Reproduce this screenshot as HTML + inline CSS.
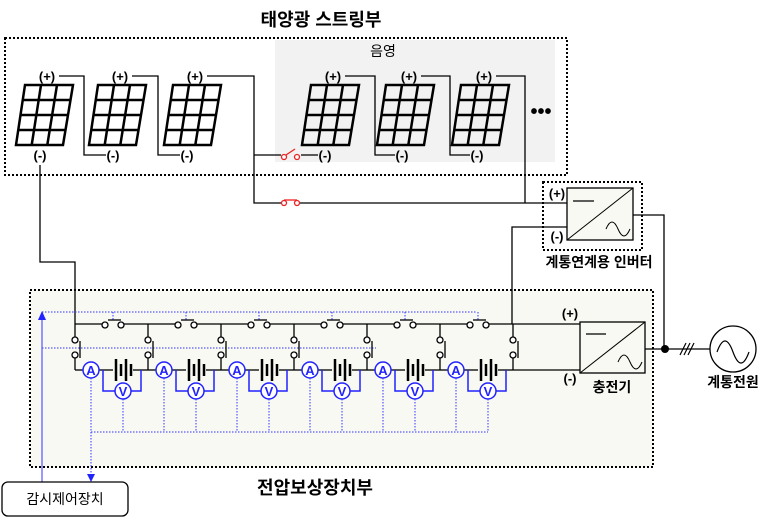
<!DOCTYPE html>
<html><head><meta charset="utf-8"><style>
html,body{margin:0;padding:0;background:#fff;}
svg{display:block;font-family:"Liberation Sans","Noto Sans CJK KR",sans-serif;}
.b{font-weight:bold;}
</style></head><body>
<svg width="774" height="518" viewBox="0 0 774 518" xmlns="http://www.w3.org/2000/svg">
<defs>
<g id="pv" fill="none" stroke="#000" stroke-width="2.5">
<polygon points="9,0 57,0 47,60 0,60"/>
<line x1="25" y1="0" x2="15.7" y2="60"/><line x1="41" y1="0" x2="31.3" y2="60"/>
<line x1="6.75" y1="15" x2="54.5" y2="15"/><line x1="4.5" y1="30" x2="52" y2="30"/><line x1="2.25" y1="45" x2="49.5" y2="45"/>
</g>
<g id="seg">
<g stroke="#000" stroke-width="1.3" fill="none">
<line x1="0" y1="324" x2="0" y2="337"/><circle cx="0" cy="340" r="3" fill="#fff"/><circle cx="0" cy="355" r="3" fill="#fff"/>
<line x1="0" y1="358" x2="0" y2="370"/><line x1="5" y1="341" x2="5" y2="358"/>
<line x1="0" y1="324" x2="27" y2="324"/><circle cx="30" cy="325" r="3" fill="#fff"/><circle cx="46" cy="325" r="3" fill="#fff"/>
<line x1="49" y1="324" x2="73" y2="324"/><line x1="33" y1="320" x2="46" y2="320"/>
<line x1="0" y1="370" x2="8" y2="370"/><line x1="24" y1="370" x2="38" y2="370"/><line x1="58" y1="370" x2="73" y2="370"/>
</g>
<g stroke="#000" stroke-width="2.5">
<line x1="41" y1="359" x2="41" y2="381"/><line x1="46" y1="364" x2="46" y2="376"/><line x1="51" y1="359" x2="51" y2="381"/><line x1="56" y1="364" x2="56" y2="376"/>
</g>
<line x1="38" y1="312" x2="38" y2="320" stroke="#33f" stroke-dasharray="1.5,1.5"/>
<g stroke="#22f" stroke-width="1.5" fill="none">
<polyline points="28,370 28,391 40,391"/><polyline points="56,391 66,391 66,370"/>
<circle cx="16" cy="370" r="8" fill="#fff"/><circle cx="48" cy="391" r="8" fill="#fff"/>
</g>
<g stroke="#33f" stroke-dasharray="1.5,1.5"><line x1="16" y1="378" x2="16" y2="432"/><line x1="48" y1="399" x2="48" y2="432"/></g>
<text x="16" y="375" font-size="13" fill="#22f" text-anchor="middle" class="b">A</text>
<text x="48" y="396" font-size="13" fill="#22f" text-anchor="middle" class="b">V</text>
</g>
</defs>

<text x="321" y="26" font-size="18" class="b" text-anchor="middle">태양광 스트링부</text>
<rect x="5" y="38" width="562" height="137" fill="none" stroke="#000" stroke-width="2" stroke-dasharray="2,2"/>
<rect x="275" y="40" width="280" height="122" fill="#f2f2f2"/>
<text x="383" y="56" font-size="14" text-anchor="middle">음영</text>
<rect x="30" y="290" width="623" height="177" fill="#f7f9f2" stroke="#000" stroke-width="2" stroke-dasharray="2,2"/>

<use href="#pv" x="16" y="85"/><use href="#pv" x="89" y="85"/><use href="#pv" x="164" y="85"/>
<use href="#pv" x="302" y="85"/><use href="#pv" x="377" y="85"/><use href="#pv" x="452" y="85"/>
<g font-size="13" class="b" text-anchor="middle">
<text x="47" y="81">(+)</text><text x="120" y="81">(+)</text><text x="195" y="81">(+)</text>
<text x="333" y="81">(+)</text><text x="409" y="81">(+)</text><text x="484" y="81">(+)</text>
<text x="40" y="160">(-)</text><text x="113" y="160">(-)</text><text x="187" y="160">(-)</text>
<text x="325" y="160">(-)</text><text x="402" y="160">(-)</text><text x="477" y="160">(-)</text>
</g>
<text x="541" y="118" font-size="20" class="b" text-anchor="middle">•••</text>
<g stroke="#000" stroke-width="1.3" fill="none">
<polyline points="59,76 84,76 84,155 106,155"/>
<polyline points="132,76 158,76 158,155 180,155"/>
<polyline points="207,76 254,76 254,203 282,203"/>
<line x1="254" y1="155" x2="281" y2="155"/><line x1="301" y1="155" x2="318" y2="155"/>
<polyline points="345,76 375,76 375,155 395,155"/>
<polyline points="421,76 450,76 450,155 470,155"/>
<polyline points="496,76 525,76 525,203"/>
<line x1="300" y1="203" x2="567" y2="203"/>
<polyline points="40,165 40,262 75,262 75,324"/>
<polyline points="567,227 512,227 512,324"/>
<polyline points="633,215 664,215 664,349"/>
<line x1="645" y1="349" x2="710" y2="349"/>
<line x1="513" y1="324" x2="580" y2="324"/>
</g>
<g stroke="#e22" stroke-width="1.3" fill="#fff">
<circle cx="284" cy="157" r="2.5"/><circle cx="297" cy="157" r="2.5"/><line x1="286" y1="155" x2="295" y2="149"/>
<circle cx="284" cy="203" r="2.5"/><circle cx="297" cy="203" r="2.5"/><line x1="284" y1="200" x2="297" y2="200"/>
</g>

<rect x="543" y="182" width="99" height="68" fill="none" stroke="#000" stroke-width="2" stroke-dasharray="2,2"/>
<rect x="567" y="188" width="66" height="52" fill="#f7f9f2" stroke="#000" stroke-width="1.3"/>
<line x1="567" y1="240" x2="633" y2="188" stroke="#000"/>
<line x1="573" y1="201" x2="594" y2="201" stroke="#000" stroke-width="1.3"/>
<path d="M606,229 q6,-14 12,0 t12,0" fill="none" stroke="#000"/>
<text x="557" y="198" font-size="13" class="b" text-anchor="middle">(+)</text>
<text x="557" y="241" font-size="13" class="b" text-anchor="middle">(-)</text>
<text x="599" y="267" font-size="14" class="b" text-anchor="middle">계통연계용 인버터</text>

<g stroke="#33f" stroke-dasharray="1.5,1.5" fill="none">
<line x1="42" y1="312" x2="477" y2="312"/>
<line x1="42" y1="348" x2="376" y2="348"/>
<line x1="91" y1="432" x2="488" y2="432"/>
<line x1="91" y1="432" x2="91" y2="474"/>
</g>
<use href="#seg" x="75"/><use href="#seg" x="148"/><use href="#seg" x="221"/>
<use href="#seg" x="294"/><use href="#seg" x="367"/><use href="#seg" x="440"/>
<g stroke="#000" stroke-width="1.3" fill="none">
<line x1="513" y1="324" x2="513" y2="337"/><circle cx="513" cy="340" r="3" fill="#fff"/><circle cx="513" cy="355" r="3" fill="#fff"/>
<line x1="513" y1="358" x2="513" y2="370"/><line x1="518" y1="341" x2="518" y2="358"/>
<line x1="513" y1="370" x2="580" y2="370"/>
</g>
<polygon points="87,474 95,474 91,482" fill="#22f"/>
<line x1="42" y1="318" x2="42" y2="482" stroke="#55f" stroke-width="1.2"/>
<polygon points="38,320 46,320 42,311" fill="#22f"/>

<rect x="580" y="322" width="65" height="51" fill="#f7f9f2" stroke="#000" stroke-width="1.3"/>
<line x1="580" y1="373" x2="645" y2="322" stroke="#000"/>
<line x1="586" y1="334" x2="606" y2="334" stroke="#000" stroke-width="1.3"/>
<path d="M618,362 q6,-14 12,0 t12,0" fill="none" stroke="#000"/>
<text x="570" y="318" font-size="13" class="b" text-anchor="middle">(+)</text>
<text x="570" y="383" font-size="13" class="b" text-anchor="middle">(-)</text>
<text x="612" y="392" font-size="14" class="b" text-anchor="middle">충전기</text>
<circle cx="665" cy="349" r="4" fill="#000"/>
<g stroke="#000" stroke-width="1.2"><line x1="680" y1="355" x2="686" y2="343"/><line x1="684" y1="355" x2="690" y2="343"/><line x1="688" y1="355" x2="694" y2="343"/></g>
<circle cx="733" cy="349" r="23" fill="#fff" stroke="#000" stroke-width="1.3"/>
<path d="M717,352 q8,-22 16,0 t16,0" fill="none" stroke="#000" stroke-width="1.2"/>
<text x="733" y="387" font-size="14" class="b" text-anchor="middle">계통전원</text>

<text x="315" y="494" font-size="18" class="b" text-anchor="middle">전압보상장치부</text>
<rect x="2" y="482" width="126" height="34" rx="6" fill="#fff" stroke="#000" stroke-width="1.3"/>
<text x="65" y="504" font-size="14" text-anchor="middle">감시제어장치</text>
</svg>
</body></html>
